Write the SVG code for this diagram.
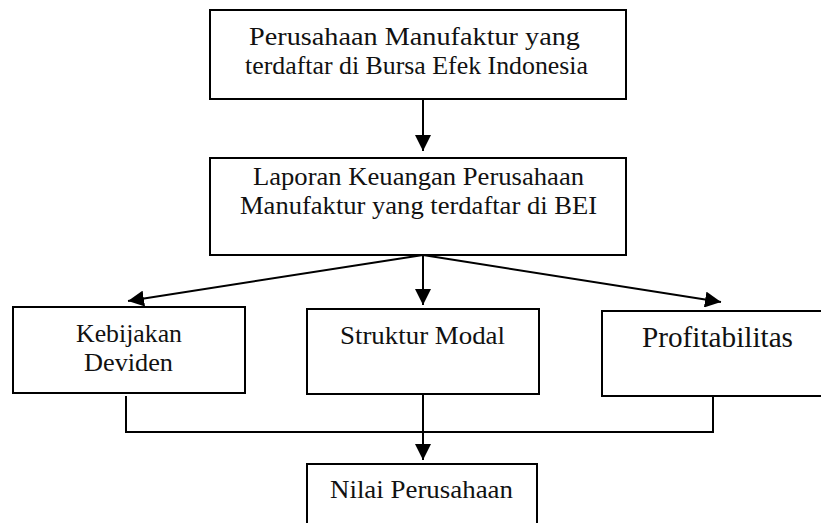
<svg xmlns="http://www.w3.org/2000/svg" width="821" height="523" viewBox="0 0 821 523">
  <style>
    .box { fill: #ffffff; stroke: #000000; stroke-width: 2; }
    .lbl { font-family: "Liberation Serif", serif; font-size: 26px; fill: #111111; text-anchor: middle; }
    .big { font-size: 29px; }
    .con { fill: none; stroke: #000000; stroke-width: 2; }
  </style>
  <defs>
    <marker id="arr" viewBox="0 0 16 16" refX="16" refY="8" markerWidth="16" markerHeight="16" markerUnits="userSpaceOnUse" orient="auto">
      <path d="M0,0 L16,8 L0,16 z" fill="#000000"/>
    </marker>
  </defs>
  <rect width="821" height="523" fill="#ffffff"/>

  <g id="connectors">
    <line class="con" x1="423" y1="100" x2="423" y2="151" marker-end="url(#arr)"/>
    <line class="con" x1="423" y1="255" x2="128" y2="301" marker-end="url(#arr)"/>
    <line class="con" x1="423" y1="255" x2="423" y2="305" marker-end="url(#arr)"/>
    <line class="con" x1="423" y1="255" x2="721" y2="302" marker-end="url(#arr)"/>
    <path class="con" d="M126,396 V432 H713 V396"/>
    <line class="con" x1="423" y1="394" x2="423" y2="460" marker-end="url(#arr)"/>
  </g>

  <g id="node-perusahaan">
    <rect class="box" x="210" y="10" width="416" height="89"/>
    <text class="lbl" x="414.5" y="45" textLength="331" lengthAdjust="spacingAndGlyphs">Perusahaan Manufaktur yang</text>
    <text class="lbl" x="416.5" y="74" textLength="343" lengthAdjust="spacingAndGlyphs">terdaftar di Bursa Efek Indonesia</text>
  </g>

  <g id="node-laporan">
    <rect class="box" x="210" y="158" width="416" height="97"/>
    <text class="lbl" x="418.5" y="185" textLength="331" lengthAdjust="spacingAndGlyphs">Laporan Keuangan Perusahaan</text>
    <text class="lbl" x="418.5" y="214" textLength="357" lengthAdjust="spacingAndGlyphs">Manufaktur yang terdaftar di BEI</text>
  </g>

  <g id="node-kebijakan">
    <rect class="box" x="13" y="307" width="232" height="86"/>
    <text class="lbl" x="129" y="342" textLength="106" lengthAdjust="spacingAndGlyphs">Kebijakan</text>
    <text class="lbl" x="128.5" y="371" textLength="89" lengthAdjust="spacingAndGlyphs">Deviden</text>
  </g>

  <g id="node-struktur">
    <rect class="box" x="307" y="309" width="232" height="85"/>
    <text class="lbl" x="422.5" y="344" textLength="165" lengthAdjust="spacingAndGlyphs">Struktur Modal</text>
  </g>

  <g id="node-profitabilitas">
    <rect class="box" x="602" y="311" width="240" height="85"/>
    <text class="lbl big" x="717.5" y="347" textLength="151" lengthAdjust="spacingAndGlyphs">Profitabilitas</text>
  </g>

  <g id="node-nilai">
    <rect class="box" x="307" y="464" width="230" height="80"/>
    <text class="lbl" x="421.5" y="498" textLength="183" lengthAdjust="spacingAndGlyphs">Nilai Perusahaan</text>
  </g>
</svg>
